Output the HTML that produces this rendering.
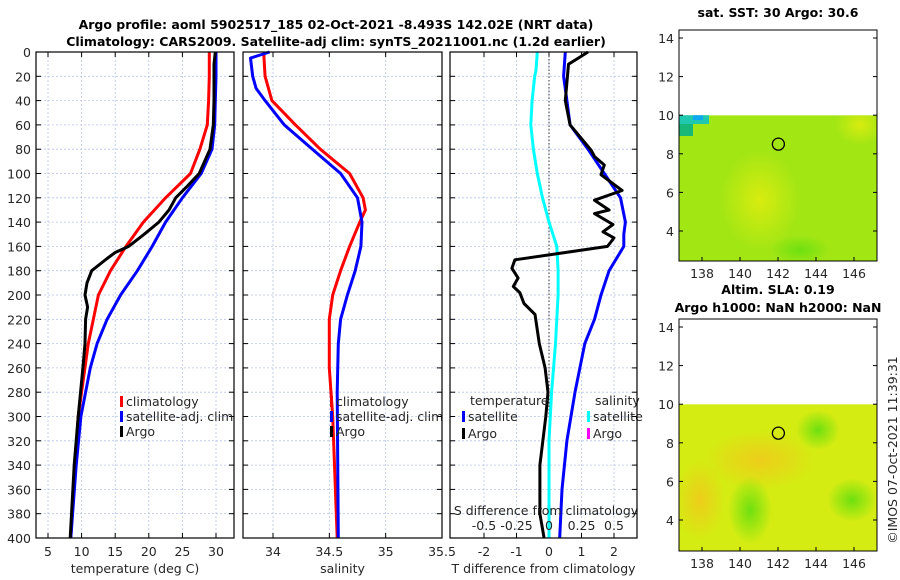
<!DOCTYPE html>
<html><head><meta charset="utf-8"><style>
html,body{margin:0;padding:0;background:#fff;}
svg{display:block;font-family:"DejaVu Sans","Liberation Sans",sans-serif;}
.tk{font-size:12.5px;fill:#262626;}
.tt{font-size:12.5px;font-weight:bold;fill:#000;}
</style></head><body>
<svg id="c" width="900" height="580" viewBox="0 0 900 580">
<defs>
<radialGradient id="org" cx="50%" cy="50%" r="50%"><stop offset="0" stop-color="#f2c81c" stop-opacity="0.85"/><stop offset="1" stop-color="#f2c81c" stop-opacity="0"/></radialGradient>
<radialGradient id="grn" cx="50%" cy="50%" r="50%"><stop offset="0" stop-color="#6ee010"/><stop offset="1" stop-color="#6ee010" stop-opacity="0"/></radialGradient>
<radialGradient id="ylw" cx="50%" cy="50%" r="50%"><stop offset="0" stop-color="#d8ec10"/><stop offset="1" stop-color="#d8ec10" stop-opacity="0"/></radialGradient>
</defs>
<g>
<text class="tt" x="336" y="29" text-anchor="middle">Argo profile: aoml 5902517_185 02-Oct-2021 -8.493S 142.02E (NRT data)</text>
<text class="tt" x="336" y="46" text-anchor="middle">Climatology: CARS2009. Satellite-adj clim: synTS_20211001.nc (1.2d earlier)</text>
</g>
<g id="plots"></g>
<g id="maps"></g>
<text class="tk" transform="translate(897,450) rotate(-90)" text-anchor="middle">©IMOS 07-Oct-2021 11:39:31</text>
</svg>
<script>
// ---- data ----
const depthTicks=[0,20,40,60,80,100,120,140,160,180,200,220,240,260,280,300,320,340,360,380,400];
const tempTicks=[5,10,15,20,25,30];
const salTicks=[34,34.5,35,35.5];
const tdTicks=[-2,-1,0,1,2];
const sdTicks=[-0.5,-0.25,0,0.25,0.5];
const sdTickLabels=["-0.5","-0.25","0","0.25","0.5"];
const tClimD=[0,20,40,60,80,100,120,140,160,180,200,240,300,400];
const tClimV=[29.0,29.0,28.9,28.7,27.6,26.2,22.5,19.2,16.6,14.3,12.5,11.0,9.5,8.4];
const tSatD=[0,20,40,60,80,100,120,140,160,180,200,220,240,260,300,340,400];
const tSatV=[30.0,30.0,29.9,29.8,29.4,27.8,25.0,22.5,20.5,18.3,15.8,13.8,12.3,11.3,9.9,9.2,8.4];
const tArgD=[0,10,40,60,80,100,110,120,130,140,150,160,165,170,180,190,200,210,220,240,260,300,340,400];
const tArgV=[29.9,29.7,29.7,29.6,29.1,27.5,25.8,24.0,23.0,21.5,19.3,17.0,15.0,13.8,11.5,10.8,10.5,10.9,10.6,10.5,10.2,9.5,8.9,8.3];
const sClimD=[0,5,20,40,60,80,100,120,130,140,160,180,200,220,260,300,400];
const sClimV=[33.92,33.92,33.93,33.99,34.2,34.42,34.68,34.8,34.82,34.77,34.68,34.6,34.53,34.5,34.5,34.53,34.57];
const sSatD=[0,5,20,30,40,60,80,100,120,140,160,180,200,220,240,280,400];
const sSatV=[33.97,33.8,33.82,33.85,33.93,34.1,34.35,34.6,34.75,34.79,34.78,34.73,34.66,34.6,34.58,34.57,34.58];
const tdSatD=[0,20,40,60,80,100,120,140,150,160,180,200,220,240,280,320,360,400];
const tdSatV=[0.5,0.45,0.55,0.65,1.2,1.7,2.2,2.35,2.3,2.3,1.85,1.6,1.4,1.1,0.8,0.55,0.4,0.33];
const sdSatD=[0,15,20,40,60,80,100,120,140,160,180,200,240,280,320,400];
const sdSatV=[-0.09,-0.1,-0.11,-0.13,-0.14,-0.12,-0.09,-0.05,0.0,0.06,0.07,0.07,0.05,0.02,0.0,0.0];
const tdArgD=[0,5,10,40,60,81,86,93,101,114,122,130,133,142,148,153,160,167,171,178,186,193,198,207,216,240,260,280,300,340,380,400];
const tdArgV=[1.2,0.9,0.6,0.5,0.65,1.3,1.4,1.7,1.6,2.25,1.4,1.85,1.4,1.97,1.66,2.0,1.8,0.0,-1.05,-1.14,-0.95,-1.1,-0.9,-0.77,-0.43,-0.3,-0.12,-0.03,-0.1,-0.28,-0.28,-0.15];
const mapXTicks=[138,140,142,144,146];
const mapYTicks=[4,6,8,10,12,14];
const argoLon=142.02, argoLat=8.5;

// ---- helpers ----
const NS="http://www.w3.org/2000/svg";
const plots=document.getElementById('plots');
const maps=document.getElementById('maps');
function mk(tag,attrs,parent){const e=document.createElementNS(NS,tag);for(const k in attrs)e.setAttribute(k,attrs[k]);parent.appendChild(e);return e;}
const Y0=52,Y1=538;
const yD=d=>Y0+(d/400)*(Y1-Y0);
function lin(d0,d1,r0,r1){return v=>r0+(v-d0)/(d1-d0)*(r1-r0);}
const xT=lin(5,30,48,216);
const xS=lin(34,35.5,273,442);
const xTD=lin(0,1,549,581.5);
const xSD=lin(0,0.25,549,581.5);

function panel(name,x0,x1,xs,ticks,labels,xlabel,yLabels){
  const g=mk('g',{},plots);
  
  
  depthTicks.forEach(d=>{const l=mk('line',{x1:x0,x2:x1,y1:yD(d),y2:yD(d),stroke:'#b8c4e8','stroke-width':0.8,'stroke-dasharray':'2,2'},g);
    
    mk('line',{x1:x0,x2:x0+5,y1:yD(d),y2:yD(d),stroke:'#000'},g);mk('line',{x1:x1-5,x2:x1,y1:yD(d),y2:yD(d),stroke:'#000'},g);
    if(yLabels){const t=mk('text',{x:x0-5,y:yD(d)+5,'text-anchor':'end',class:'tk'},g);t.textContent=d;
      }
  });
  ticks.forEach((v,i)=>{const x=xs(v);
    const l=mk('line',{x1:x,x2:x,y1:Y0,y2:Y1,stroke:'#b8c4e8','stroke-width':0.8,'stroke-dasharray':'2,2'},g);
    
    mk('line',{x1:x,x2:x,y1:Y1,y2:Y1-5,stroke:'#000'},g);mk('line',{x1:x,x2:x,y1:Y0,y2:Y0+5,stroke:'#000'},g);
    const t=mk('text',{x:x,y:556,'text-anchor':'middle',class:'tk'},g);t.textContent=labels[i];
    
  });
  const t=mk('text',{x:(x0+x1)/2,y:573,'text-anchor':'middle',class:'tk'},g);t.textContent=xlabel;
  
  return g;
}
function frame(g,x0,x1){const r=mk('rect',{x:x0,y:Y0,width:x1-x0,height:Y1-Y0,fill:'none',stroke:'#000','stroke-width':1.2},g);
  }
function line(g,D,V,xs,color,name){
  const p=mk('path',{d:D.map((d,i)=>(i?'L':'M')+xs(V[i]).toFixed(1)+','+yD(d).toFixed(1)).join(''),fill:'none',stroke:color,'stroke-width':3,'stroke-linejoin':'round'},g);
  
}
function legend(g,x,y,color,label,name){
  const gg=mk('g',{},g);
  
  mk('rect',{x:x,y:y-10,width:3,height:11,fill:color},gg);
  const t=mk('text',{x:x+6,y:y,class:'tk'},gg);t.textContent=label;
}

// panel 1
let g1=panel('temperature-panel',36,234,xT,tempTicks,tempTicks.map(String),'temperature (deg C)',true);
line(g1,tClimD,tClimV,xT,'#ff0000','temp-climatology-line');
line(g1,tSatD,tSatV,xT,'#0000ff','temp-satellite-line');
line(g1,tArgD,tArgV,xT,'#000000','temp-argo-line');
legend(g1,120,406,'#ff0000','climatology','legend-climatology');
legend(g1,120,421,'#0000ff','satellite-adj. clim','legend-satellite');
legend(g1,120,436,'#000000','Argo','legend-argo');
frame(g1,36,234);

// panel 2
let g2=panel('salinity-panel',243,442,xS,salTicks,salTicks.map(String),'salinity',false);
line(g2,sClimD,sClimV,xS,'#ff0000','sal-climatology-line');
line(g2,sSatD,sSatV,xS,'#0000ff','sal-satellite-line');
legend(g2,330,406,'#ff0000','climatology','legend-climatology');
legend(g2,330,421,'#0000ff','satellite-adj. clim','legend-satellite');
legend(g2,330,436,'#000000','Argo','legend-argo');
frame(g2,243,442);

// panel 3
let g3=panel('difference-panel',450,637,xTD,tdTicks,tdTicks.map(String),'T difference from climatology',false);
mk('line',{x1:xTD(0),x2:xTD(0),y1:Y0,y2:Y1,stroke:'#333','stroke-width':1,'stroke-dasharray':'1.5,2'},g3);
line(g3,sdSatD,sdSatV,xSD,'#00ffff','sal-diff-satellite-line');
line(g3,tdSatD,tdSatV,xTD,'#0000ff','temp-diff-satellite-line');
line(g3,tdArgD,tdArgV,xTD,'#000000','temp-diff-argo-line');
sdTicks.forEach((v,i)=>{const t=mk('text',{x:xSD(v),y:530,'text-anchor':'middle',class:'tk'},g3);t.textContent=sdTickLabels[i];
  });
{const t=mk('text',{x:546,y:515,'text-anchor':'middle',class:'tk'},g3);t.textContent='S difference from climatology';
 }
{const t=mk('text',{x:470,y:405,class:'tk'},g3);t.textContent='temperature';
 const t2=mk('text',{x:595,y:405,class:'tk'},g3);t2.textContent='salinity';}
legend(g3,462,421,'#0000ff','satellite','legend-temp-satellite');
legend(g3,462,438,'#000000','Argo','legend-temp-argo');
legend(g3,587,421,'#00ffff','satellite','legend-sal-satellite');
legend(g3,587,438,'#ff00ff','Argo','legend-sal-argo');
frame(g3,450,637);

// ---- maps ----
function map(name,top,bottom,title,titleY,fillFn){
  const g=mk('g',{},maps);
  
  const X0=679,X1=877;
  const xm=lin(138,146,702,854);
  const ym=lin(14,4,top,top+193);
  const clip='clip-'+name;
  const cp=mk('clipPath',{id:clip},g);mk('rect',{x:X0,y:ym(10),width:X1-X0,height:bottom-ym(10)},cp);
  const fg=mk('g',{'clip-path':'url(#'+clip+')'},g);
  
  fillFn(fg,X0,ym(10),X1-X0,bottom-ym(10));
  const c=mk('circle',{cx:xm(argoLon),cy:ym(argoLat),r:6,fill:'none',stroke:'#000','stroke-width':1.3},g);
  
  mk('rect',{x:X0,y:top-8,width:X1-X0,height:bottom-top+8,fill:'none',stroke:'#000','stroke-width':1},g);
  mapXTicks.forEach(v=>{mk('line',{x1:xm(v),x2:xm(v),y1:bottom,y2:bottom-4,stroke:'#000'},g);
    const t=mk('text',{x:xm(v),y:bottom+17,'text-anchor':'middle',class:'tk'},g);t.textContent=v;
    });
  mapYTicks.forEach(v=>{mk('line',{x1:X0,x2:X0+4,y1:ym(v),y2:ym(v),stroke:'#000'},g);mk('line',{x1:X1-4,x2:X1,y1:ym(v),y2:ym(v),stroke:'#000'},g);
    const t=mk('text',{x:X0-5,y:ym(v)+5,'text-anchor':'end',class:'tk'},g);t.textContent=v;
    });
  title.forEach((s,i)=>{const t=mk('text',{x:778,y:titleY[i],'text-anchor':'middle',class:'tt'},g);t.textContent=s;
    });
}
map('sst-map',38,261,['sat. SST: 30 Argo: 30.6'],[17],(g,x,y,w,h)=>{
  mk('rect',{x:x,y:y,width:w,height:h,fill:'#a2e614'},g);
  mk('ellipse',{cx:760,cy:200,rx:40,ry:50,fill:'url(#ylw)'},g);
  mk('ellipse',{cx:860,cy:125,rx:25,ry:20,fill:'url(#ylw)'},g);
  mk('ellipse',{cx:800,cy:250,rx:30,ry:15,fill:'url(#grn)'},g);
  mk('rect',{x:679,y:114,width:30,height:10,fill:'#20c8b0'},g);
  mk('rect',{x:679,y:124,width:14,height:12,fill:'#18b878'},g);
  mk('rect',{x:693,y:114,width:10,height:6,fill:'#10a8f0'},g);
});
map('sla-map',327,551,['Altim. SLA: 0.19','Argo h1000: NaN h2000: NaN'],[294,312],(g,x,y,w,h)=>{
  mk('rect',{x:x,y:y,width:w,height:h,fill:'#d4ec12'},g);
  mk('ellipse',{cx:760,cy:460,rx:55,ry:30,fill:'url(#org)'},g);
  mk('ellipse',{cx:700,cy:500,rx:25,ry:40,fill:'url(#org)'},g);
  mk('ellipse',{cx:750,cy:510,rx:22,ry:34,fill:'url(#grn)'},g);
  mk('ellipse',{cx:818,cy:430,rx:22,ry:20,fill:'url(#grn)'},g);
  mk('ellipse',{cx:852,cy:500,rx:25,ry:22,fill:'url(#grn)'},g);
});
</script>
</body></html>
